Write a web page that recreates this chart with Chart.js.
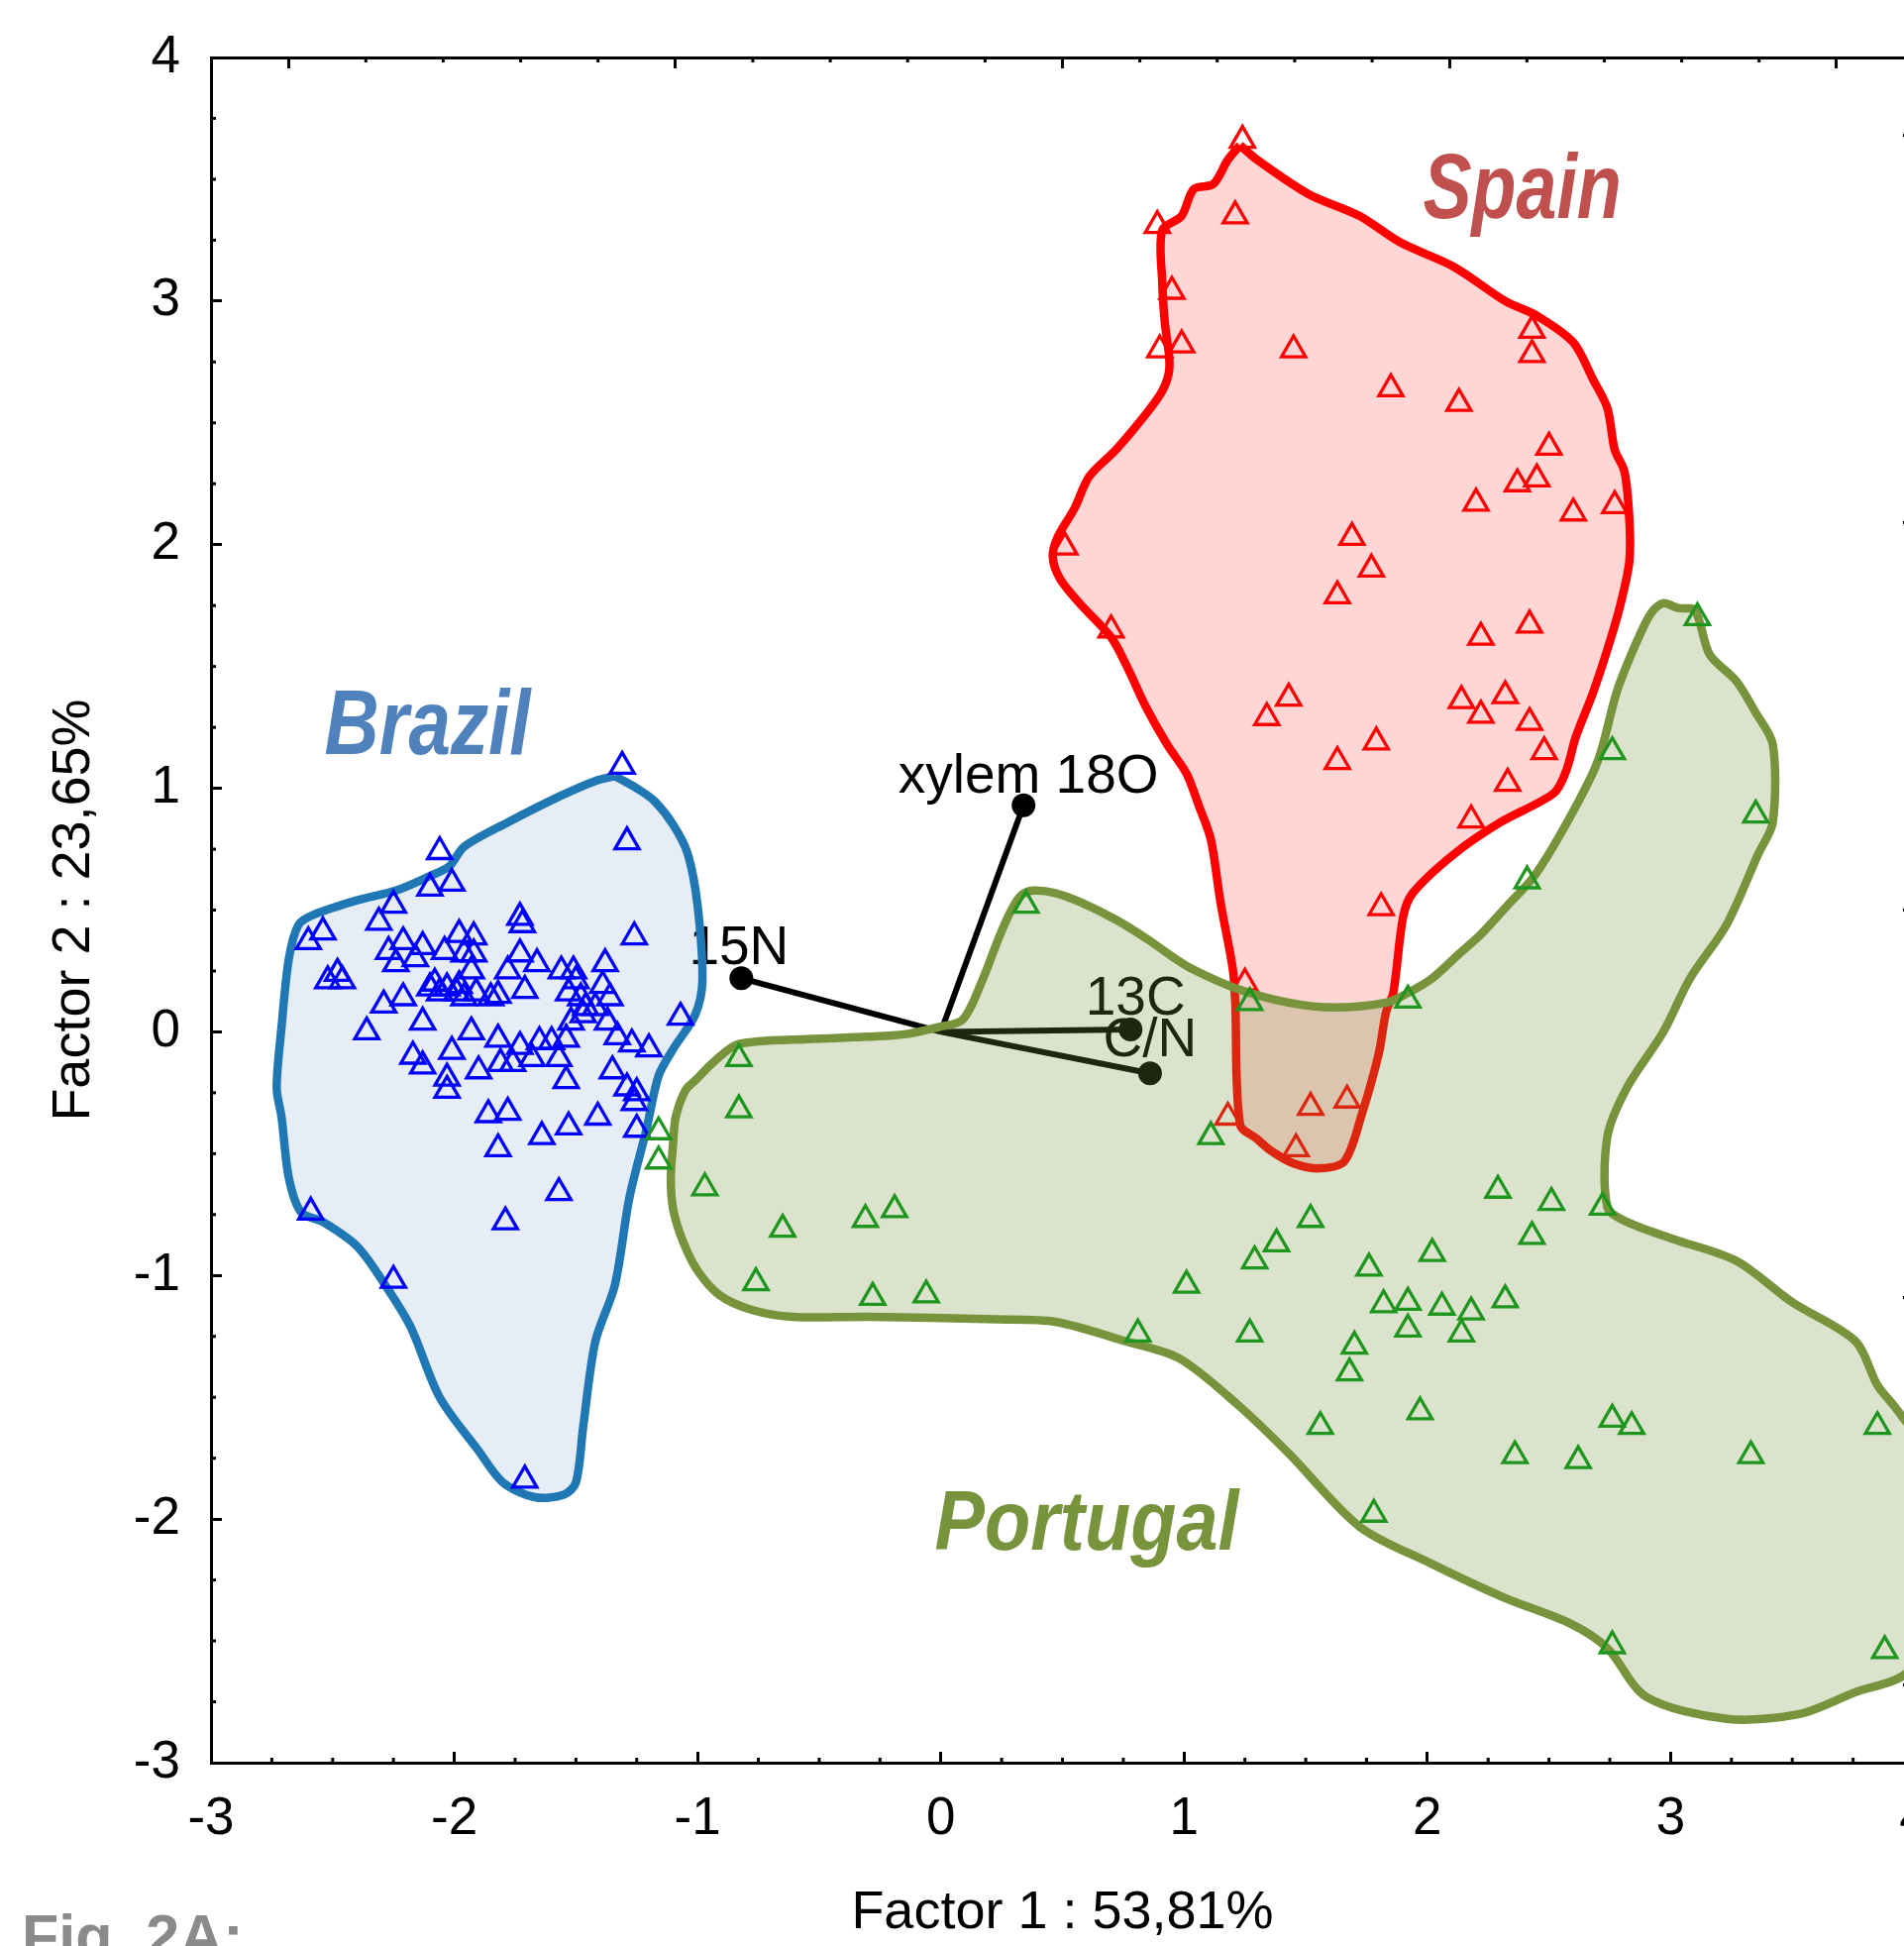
<!DOCTYPE html>
<html>
<head>
<meta charset="utf-8">
<title>Factor 1 x Factor 2</title>
<script src="https://cdn.jsdelivr.net/npm/chart.js@4.4.1/dist/chart.umd.min.js"></script>
<style>
  html, body { margin: 0; padding: 0; background: #fff; overflow: hidden; }
  canvas { display: block; }
</style>
</head>
<body>
<canvas id="factorChart" width="1960" height="1964"></canvas>
<script>
// factor scores
const brazilPts = [
  [-1.31, 1.09], [-1.29, 0.78], [-2.06, 0.74], [-2.10, 0.59], [-2.01, 0.61], [-2.25, 0.52],
  [-2.31, 0.45], [-2.54, 0.41], [-2.60, 0.37], [-1.26, 0.39], [-1.73, 0.47], [-1.72, 0.44],
  [-2.21, 0.37], [-2.13, 0.35], [-2.27, 0.33], [-2.24, 0.28], [-2.16, 0.30],
  [-2.04, 0.33], [-1.98, 0.40], [-1.92, 0.39], [-1.96, 0.32], [-1.92, 0.32], [-1.93, 0.25],
  [-1.78, 0.25], [-1.73, 0.32], [-1.66, 0.28],
  [-2.52, 0.21], [-2.48, 0.24], [-2.46, 0.21], [-2.21, 0.14], [-2.29, 0.11],
  [-2.08, 0.20], [-2.10, 0.18], [-2.06, 0.16], [-1.99, 0.16], [-1.96, 0.14], [-1.91, 0.16],
  [-1.85, 0.14], [-1.82, 0.15], [-1.98, 0.19], [-2.03, 0.18], [-1.71, 0.17],
  [-1.56, 0.25], [-1.51, 0.25], [-1.50, 0.21], [-1.53, 0.16], [-1.48, 0.14],
  [-1.38, 0.28], [-1.39, 0.19], [-1.36, 0.14], [-1.46, 0.10], [-1.42, 0.10], [-1.47, 0.07],
  [-1.07, 0.06], [-2.36, 0.00], [-2.13, 0.04], [-1.93, 0.00], [-1.82, -0.03], [-1.52, 0.04],
  [-1.54, -0.03], [-1.37, 0.04], [-1.33, -0.02], [-1.27, -0.05], [-1.20, -0.07],
  [-2.17, -0.10], [-2.13, -0.14], [-2.01, -0.08], [-1.73, -0.06], [-1.65, -0.04], [-1.60, -0.04],
  [-1.57, -0.11], [-1.68, -0.11], [-1.81, -0.13], [-1.76, -0.13], [-1.90, -0.16],
  [-2.03, -0.19], [-2.03, -0.24], [-1.54, -0.20], [-1.35, -0.16], [-1.29, -0.23], [-1.25, -0.25],
  [-1.26, -0.29], [-1.86, -0.34], [-1.78, -0.33], [-1.41, -0.35], [-1.53, -0.39], [-1.64, -0.43],
  [-1.25, -0.40], [-1.82, -0.48], [-1.57, -0.66], [-1.79, -0.78], [-2.59, -0.74], [-2.25, -1.02],
  [-1.71, -1.84]
];
const spainPts = [
  [1.24, 3.66], [0.89, 3.31], [1.21, 3.35], [0.95, 3.04], [0.90, 2.80], [0.99, 2.82],
  [1.45, 2.80], [1.85, 2.64], [2.13, 2.58], [2.43, 2.88], [2.43, 2.78], [2.50, 2.40],
  [2.37, 2.25], [2.45, 2.27], [2.20, 2.17], [2.60, 2.13], [2.77, 2.16], [0.51, 1.99],
  [1.69, 2.03], [1.77, 1.90], [1.63, 1.79], [0.70, 1.65], [2.22, 1.62], [2.42, 1.67],
  [1.43, 1.37], [1.34, 1.29], [2.14, 1.36], [2.22, 1.30], [2.32, 1.38], [2.42, 1.27],
  [2.48, 1.15], [1.79, 1.19], [1.63, 1.11], [2.33, 1.02], [2.18, 0.87], [1.81, 0.51],
  [1.25, 0.20], [1.52, -0.31], [1.67, -0.28], [1.18, -0.35], [1.46, -0.48]
];
const portugalPts = [
  [0.35, 0.52], [-0.83, -0.11], [-0.83, -0.32], [-1.16, -0.41], [-1.16, -0.53], [-0.97, -0.64],
  [-0.65, -0.81], [-0.31, -0.77], [-0.19, -0.73], [-0.76, -1.03], [-0.28, -1.09], [-0.06, -1.08],
  [0.81, -1.24], [1.01, -1.04], [1.11, -0.43], [1.27, -1.24], [1.29, -0.94], [1.38, -0.87],
  [1.52, -0.77], [1.76, -0.97], [1.82, -1.12], [1.92, -1.11], [1.92, -1.22], [2.02, -0.91],
  [2.06, -1.13], [2.18, -1.15], [2.14, -1.24], [2.32, -1.10], [1.70, -1.29], [1.68, -1.40],
  [1.56, -1.62], [1.97, -1.56], [1.78, -1.98], [2.36, -1.74], [2.62, -1.76], [2.76, -1.59],
  [2.84, -1.62], [3.33, -1.74], [3.85, -1.62], [2.76, -2.52], [3.88, -2.54], [2.29, -0.65],
  [2.51, -0.70], [2.72, -0.72], [2.43, -0.84], [1.27, 0.12], [1.92, 0.13], [2.41, 0.62],
  [2.76, 1.15], [3.11, 1.70], [3.35, 0.89]
];

// hand-drawn group outlines
const brazilHull = [
  [-1.34, 1.05], [-1.25, 1.00], [-1.18, 0.95], [-1.10, 0.85], [-1.04, 0.73], [-1.00, 0.52],
  [-0.98, 0.21], [-1.01, 0.07], [-1.10, -0.07], [-1.16, -0.18], [-1.21, -0.40], [-1.28, -0.68],
  [-1.34, -1.04], [-1.42, -1.27], [-1.47, -1.62], [-1.50, -1.85], [-1.55, -1.90], [-1.67, -1.91],
  [-1.80, -1.85], [-1.90, -1.72], [-2.06, -1.50], [-2.18, -1.21], [-2.29, -1.03], [-2.40, -0.88],
  [-2.54, -0.78], [-2.63, -0.74], [-2.68, -0.60], [-2.71, -0.35], [-2.73, -0.23], [-2.71, 0.02],
  [-2.68, 0.30], [-2.64, 0.44], [-2.58, 0.48], [-2.40, 0.54], [-2.24, 0.58], [-2.10, 0.64],
  [-2.02, 0.68], [-1.96, 0.76], [-1.78, 0.86], [-1.56, 0.97], [-1.42, 1.03]
];
const spainHull = [
  [1.23, 3.64], [1.30, 3.58], [1.51, 3.44], [1.72, 3.35], [1.89, 3.24], [2.11, 3.14],
  [2.32, 3.00], [2.45, 2.94], [2.60, 2.83], [2.68, 2.68], [2.74, 2.56], [2.77, 2.39],
  [2.81, 2.30], [2.83, 2.11], [2.83, 1.93], [2.79, 1.74], [2.74, 1.57], [2.68, 1.39],
  [2.61, 1.21], [2.57, 1.07], [2.52, 0.98], [2.30, 0.86], [2.11, 0.73], [1.94, 0.57],
  [1.90, 0.47], [1.86, 0.16], [1.83, 0.08], [1.80, -0.09], [1.73, -0.34], [1.66, -0.53],
  [1.56, -0.56], [1.45, -0.54], [1.36, -0.49], [1.30, -0.44], [1.23, -0.38], [1.21, 0.13],
  [1.20, 0.26], [1.15, 0.53], [1.11, 0.79], [1.06, 0.93], [1.01, 1.06], [0.93, 1.18],
  [0.84, 1.34], [0.77, 1.49], [0.70, 1.62], [0.57, 1.76], [0.49, 1.86], [0.46, 1.95],
  [0.48, 2.03], [0.55, 2.15], [0.61, 2.28], [0.72, 2.39], [0.83, 2.52], [0.91, 2.63],
  [0.94, 2.73], [0.92, 2.92], [0.91, 3.08], [0.91, 3.29], [0.99, 3.35], [1.04, 3.46],
  [1.12, 3.48], [1.18, 3.58]
];
const portugalHull = [
  [-1.10, -0.45], [-1.09, -0.35], [-1.05, -0.24], [-1.01, -0.20], [-0.93, -0.12], [-0.83, -0.05],
  [-0.55, -0.03], [-0.30, -0.02], [-0.15, -0.01], [-0.01, 0.02], [0.09, 0.05], [0.17, 0.21],
  [0.24, 0.39], [0.29, 0.50], [0.33, 0.56], [0.38, 0.58], [0.47, 0.57], [0.58, 0.53],
  [0.72, 0.46], [0.85, 0.38], [0.95, 0.31], [1.03, 0.26], [1.21, 0.18], [1.43, 0.12],
  [1.62, 0.10], [1.83, 0.12], [1.92, 0.16], [2.02, 0.22], [2.13, 0.32], [2.22, 0.40],
  [2.33, 0.52], [2.44, 0.64], [2.58, 0.87], [2.70, 1.11], [2.78, 1.40], [2.86, 1.60],
  [2.92, 1.72], [2.97, 1.76], [3.03, 1.74], [3.10, 1.73], [3.16, 1.55], [3.27, 1.44],
  [3.35, 1.31], [3.42, 1.18], [3.42, 0.86], [3.36, 0.73], [3.23, 0.44], [3.08, 0.22],
  [2.97, 0.00], [2.82, -0.23], [2.74, -0.43], [2.74, -0.72], [2.82, -0.78], [3.01, -0.85],
  [3.27, -0.94], [3.50, -1.11], [3.76, -1.27], [3.85, -1.45], [3.93, -1.55], [4.04, -1.72],
  [4.09, -2.08], [4.05, -2.49], [3.96, -2.64], [3.76, -2.71], [3.53, -2.80], [3.23, -2.82],
  [2.90, -2.73], [2.74, -2.53], [2.59, -2.43], [2.31, -2.32], [2.01, -2.18], [1.72, -2.03],
  [1.43, -1.73], [1.22, -1.53], [0.98, -1.34], [0.76, -1.27], [0.47, -1.19], [0.23, -1.18],
  [-0.30, -1.17], [-0.61, -1.17], [-0.78, -1.14], [-0.91, -1.08], [-1.00, -0.98], [-1.06, -0.86],
  [-1.10, -0.73], [-1.11, -0.60]
];

// variable loadings (projected)
const vectorNames = ['15N', 'xylem 18O', '13C', 'C/N'];
const vectorX = [-0.82, 0.34, 0.78, 0.86];
const vectorY = [0.22, 0.93, 0.01, -0.17];

const xTicks = [-3, -2, -1, 0, 1, 2, 3, 4];
const yTicks = [-3, -2, -1, 0, 1, 2, 3, 4];
const loadTicks = [0, 1, 2, 3, 4];

const FONT = "'Liberation Sans', Arial, Helvetica, sans-serif";
Chart.defaults.font.family = FONT;
Chart.defaults.color = '#000';

const toPts = arr => arr.map(([x, y]) => ({ x, y }));
const closed = arr => toPts([...arr, arr[0]]);

const vectorData = [];
vectorX.forEach((vx, i) => {
  vectorData.push({ x: 0, y: 0 }, { x: vx, y: vectorY[i] }, { x: null, y: null });
});

// label placement (data units) and looks
const vectorLabelPos = [[-0.83, 0.28], [0.36, 0.98], [0.80, 0.07], [0.86, -0.10]];
const groupLabels = [
  { text: 'Spain', x: 2.39, y: 3.34, size: 92, squeeze: 0.8, color: '#c0504d' },
  { text: 'Brazil', x: -2.11, y: 1.14, size: 92, squeeze: 0.83, color: '#4f81bd' },
  { text: 'Portugal', x: 0.60, y: -2.125, size: 86, squeeze: 0.88, color: '#77933c' }
];

function hull(label, pts, line, fill, order) {
  return {
    label, data: closed(pts), showLine: true, fill: 'shape',
    borderColor: line, backgroundColor: fill, borderWidth: 8.5,
    borderJoinStyle: 'round', tension: 0.3, pointRadius: 0, order
  };
}
function group(label, pts, color, order) {
  return {
    label, data: toPts(pts), pointStyle: 'triangle', pointRadius: 14,
    pointBorderWidth: 3.3, pointBorderColor: color,
    pointBackgroundColor: 'rgba(0,0,0,0)', order
  };
}

const minorTicks = {
  id: 'minorTicks',
  afterDraw(chart) {
    const { ctx, chartArea: a } = chart;
    const len = 5;
    ctx.save();
    ctx.strokeStyle = '#000';
    ctx.lineWidth = 3;
    [['x', 0.25], ['y', 0.25], ['x2', 0.2], ['y2', 0.2]].forEach(([id, step]) => {
      const s = chart.scales[id];
      const k0 = Math.ceil(s.min / step - 1e-6), k1 = Math.floor(s.max / step + 1e-6);
      for (let k = k0; k <= k1; k++) {
        const v = k * step;
        if (Math.abs(v - Math.round(v)) < 1e-6 || v <= s.min || v >= s.max) continue;
        const p = s.getPixelForValue(v);
        ctx.beginPath();
        if (id === 'x') { ctx.moveTo(p, a.bottom); ctx.lineTo(p, a.bottom - len); }
        if (id === 'x2') { ctx.moveTo(p, a.top); ctx.lineTo(p, a.top + len); }
        if (id === 'y') { ctx.moveTo(a.left, p); ctx.lineTo(a.left + len, p); }
        if (id === 'y2') { ctx.moveTo(a.right, p); ctx.lineTo(a.right - len, p); }
        ctx.stroke();
      }
    });
    ctx.restore();
  }
};

const textLayer = {
  id: 'textLayer',
  afterDatasetDraw(chart, args) {
    if (chart.data.datasets[args.index].label !== 'loadings') return;
    const { ctx, scales: { x, y } } = chart;
    ctx.save();
    ctx.font = '55px ' + FONT;
    ctx.fillStyle = '#000';
    ctx.textAlign = 'center';
    ctx.textBaseline = 'alphabetic';
    vectorNames.forEach((name, i) => {
      const [lx, ly] = vectorLabelPos[i];
      ctx.fillText(name, x.getPixelForValue(lx), y.getPixelForValue(ly));
    });
    ctx.restore();
  },
  afterDraw(chart) {
    const { ctx, scales: { x, y } } = chart;
    ctx.save();
    ctx.textAlign = 'center';
    ctx.textBaseline = 'alphabetic';
    groupLabels.forEach(g => {
      ctx.save();
      ctx.translate(x.getPixelForValue(g.x), y.getPixelForValue(g.y));
      ctx.scale(g.squeeze, 1);
      ctx.font = 'italic bold ' + g.size + 'px ' + FONT;
      ctx.fillStyle = g.color;
      ctx.fillText(g.text, 0, 0);
      ctx.restore();
    });
    ctx.textAlign = 'left';
    ctx.font = 'bold 61px ' + FONT;
    ctx.fillStyle = '#8a8a8a';
    ctx.fillText('Fig. 2A:', 22, 1975);
    ctx.restore();
  }
};

const frameGrid = { drawOnChartArea: false, tickLength: -11, tickWidth: 3, tickColor: '#000' };
const frameBorder = { display: true, width: 3, color: '#000' };

new Chart(document.getElementById('factorChart'), {
  type: 'scatter',
  data: {
    datasets: [
      group('Portugal', portugalPts, 'rgb(30,150,30)', 1),
      hull('Portugal area', portugalHull, '#77933c', 'rgba(119,147,60,0.26)', 2),
      group('Brazil', brazilPts, '#0000ff', 3),
      hull('Brazil area', brazilHull, '#1f78b4', 'rgba(79,129,189,0.14)', 4),
      {
        label: 'loadings', data: vectorData, showLine: true, spanGaps: false,
        borderColor: '#000', borderWidth: 6, tension: 0,
        pointRadius: ctx => (ctx.dataIndex % 3 === 1 ? 12 : 0),
        pointBackgroundColor: '#000', pointBorderWidth: 0, order: 5
      },
      group('Spain', spainPts, '#ff0000', 6),
      hull('Spain area', spainHull, '#ff0000', 'rgba(255,0,0,0.16)', 7)
    ]
  },
  options: {
    responsive: false,
    animation: false,
    devicePixelRatio: 1,
    layout: { padding: 0, autoPadding: false },
    plugins: { legend: { display: false }, tooltip: { enabled: false } },
    scales: {
      x: {
        type: 'linear', position: 'bottom', min: -3, max: 4,
        afterBuildTicks: s => { s.ticks = xTicks.map(v => ({ value: v })); },
        afterFit: s => { s.height = 185; s.paddingLeft = 0; s.paddingRight = 0; },
        ticks: { font: { size: 53 }, color: '#000', padding: 37, maxRotation: 0, autoSkip: false },
        grid: frameGrid, border: frameBorder,
        title: { display: true, text: 'Factor 1 : 53,81%', font: { size: 54 }, color: '#000', padding: { top: 0, bottom: 0 } }
      },
      y: {
        type: 'linear', position: 'left', min: -3, max: 4,
        afterBuildTicks: s => { s.ticks = yTicks.map(v => ({ value: v })); },
        afterFit: s => { s.width = 213; s.paddingTop = 0; s.paddingBottom = 0; },
        ticks: { font: { size: 53 }, color: '#000', padding: 42, autoSkip: false },
        grid: frameGrid, border: frameBorder,
        title: { display: true, text: 'Factor 2 : 23,65%', font: { size: 54 }, color: '#000', padding: { top: 43, bottom: 0 } }
      },
      x2: {
        type: 'linear', position: 'top', min: -0.2, max: 4.2,
        afterBuildTicks: s => { s.ticks = loadTicks.map(v => ({ value: v })); },
        afterFit: s => { s.height = 58; s.paddingLeft = 0; s.paddingRight = 0; },
        ticks: { display: false },
        grid: frameGrid, border: frameBorder
      },
      y2: {
        type: 'linear', position: 'right', min: -0.2, max: 4.2,
        afterBuildTicks: s => { s.ticks = loadTicks.map(v => ({ value: v })); },
        afterFit: s => { s.width = 28; s.paddingTop = 0; s.paddingBottom = 0; },
        ticks: { display: false },
        grid: frameGrid, border: frameBorder
      }
    }
  },
  plugins: [minorTicks, textLayer]
});
</script>
</body>
</html>
